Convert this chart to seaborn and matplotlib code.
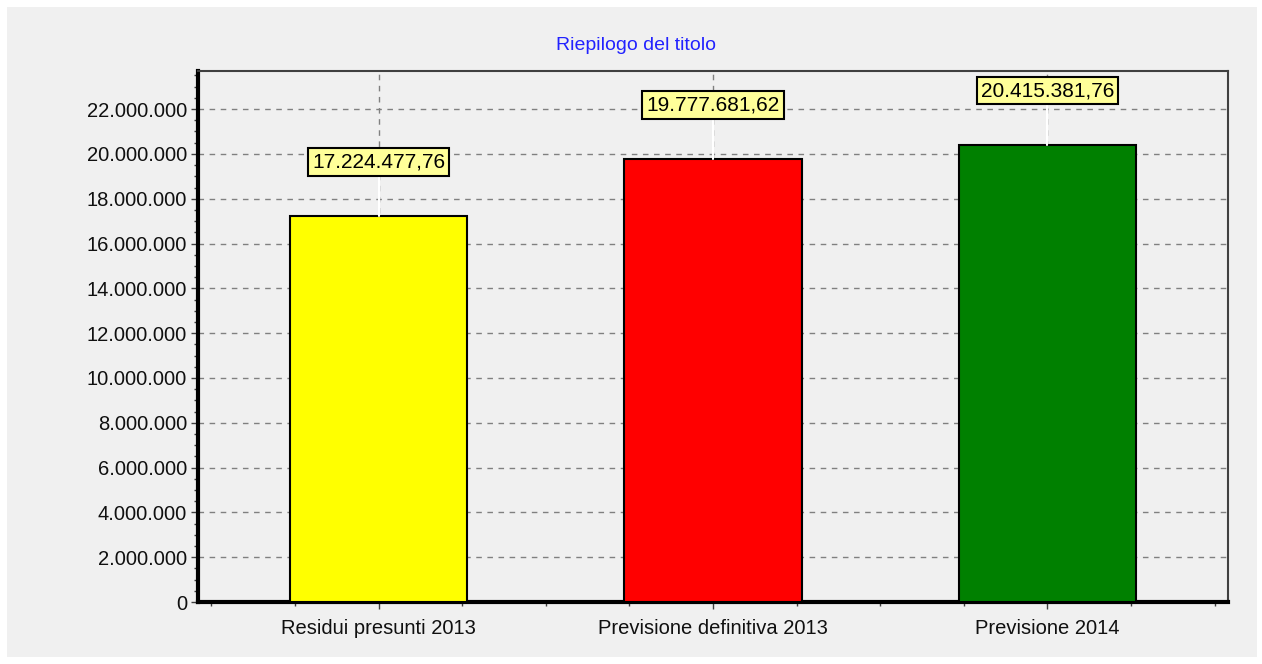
import matplotlib
matplotlib.use("Agg")
import matplotlib.pyplot as plt
import seaborn as sns
import pandas as pd
from matplotlib.patches import Rectangle
from matplotlib.ticker import FuncFormatter, MultipleLocator

categories = ["Residui presunti 2013", "Previsione definitiva 2013", "Previsione 2014"]
values = [17224477.76, 19777681.62, 20415381.76]
colors = ["#FFFF00", "#FF0000", "#008000"]
title = "Riepilogo del titolo"

sns.set_theme(style="white")
plt.rcParams['font.family'] = ['Liberation Sans', 'DejaVu Sans']

def it_int(v, pos=None):
    return f"{int(round(v)):,}".replace(",", ".")

def it_money(v):
    s = f"{v:,.2f}"
    return s.replace(",", "X").replace(".", ",").replace("X", ".")

df = pd.DataFrame({"cat": categories, "val": values})

fig = plt.figure(figsize=(12.62, 6.64), dpi=100, facecolor="white")
fig.patches.append(Rectangle((7/1262, 7/664), 1250/1262, 650/664, transform=fig.transFigure,
                             facecolor="#F0F0F0", edgecolor="none", zorder=-10))
ax = fig.add_axes([198/1262, 1 - 602/664, (1228-198)/1262, (602-71)/664])
ax.set_facecolor("#F0F0F0")

sns.barplot(data=df, x="cat", y="val", hue="cat", palette=colors, legend=False, saturation=1,
            width=0.53, edgecolor="black", linewidth=1.5, ax=ax, zorder=3)

ax.set_xlim(-0.54, 2.54)
ax.set_ylim(0, 23.7e6)
ax.yaxis.set_major_locator(MultipleLocator(2e6))
ax.yaxis.set_minor_locator(MultipleLocator(0.5e6))
ax.xaxis.set_minor_locator(MultipleLocator(0.25))
ax.yaxis.set_major_formatter(FuncFormatter(it_int))
ax.set_xlabel("")
ax.set_ylabel("")
ax.grid(True, which="major", axis="both", linestyle=(0, (4, 4)), color="#808080", linewidth=1, zorder=1)
ax.set_axisbelow(True)

ax.tick_params(axis="both", which="major", direction="out", length=5, width=1, color="#404040",
               labelsize=14.5, labelcolor="#101010", bottom=True, left=True, pad=3)
ax.tick_params(axis="both", which="minor", direction="out", length=3, width=1, color="#404040",
               bottom=True, left=True)
ax.tick_params(axis="x", pad=7)

for side in ["left", "bottom"]:
    ax.spines[side].set_linewidth(3)
    ax.spines[side].set_color("black")
for side in ["top", "right"]:
    ax.spines[side].set_linewidth(1.5)
    ax.spines[side].set_color("#404040")

offset = 54 * 23.7e6 / (602 - 71)
for i, v in enumerate(values):
    ax.plot([i, i], [v, v + offset], color="white", linewidth=1.5, zorder=4)
    ax.text(i, v + offset, it_money(v), ha="center", va="center", fontsize=15, color="black", zorder=5,
            bbox=dict(boxstyle="square,pad=0.2", facecolor="#FFFF99", edgecolor="black", linewidth=1.5))

fig.text(636/1262, 1 - 46/664, title, ha="center", va="center", fontsize=14, color="#2222FF")

fig.savefig("out.png", dpi=100, facecolor="white")
